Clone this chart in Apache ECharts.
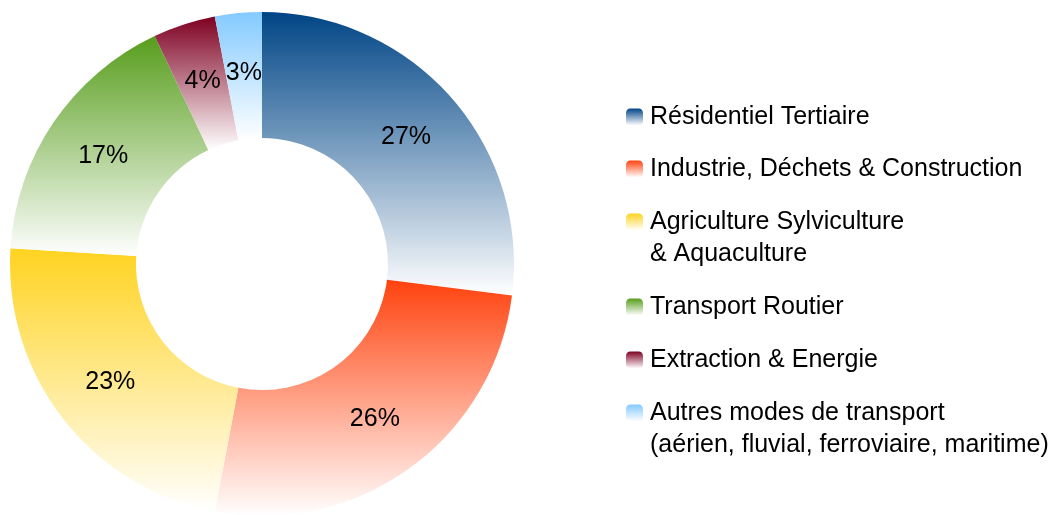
<!DOCTYPE html>
<html>
<head>
<meta charset="utf-8">
<script src="https://cdn.jsdelivr.net/npm/echarts@6/dist/echarts.min.js"></script>
<style>
  html, body { margin: 0; padding: 0; background: #fff; }
  #chart { width: 1058px; height: 515px; }
</style>
</head>
<body>
<div id="chart"></div>
<script>
// parts of emissions, in %
const categories = [
  'Résidentiel Tertiaire',
  'Industrie, Déchets & Construction',
  'Agriculture Sylviculture\n& Aquaculture',
  'Transport Routier',
  'Extraction & Energie',
  'Autres modes de transport\n(aérien, fluvial, ferroviaire, maritime)'
];
const shares = [27, 26, 23, 17, 4, 3];
const palette = ['#004586', '#ff420e', '#ffd320', '#579d1c', '#7e0021', '#83caff'];
// icon centre of each legend entry
const legendY = [117, 169, 222, 307, 360, 413];

const chart = echarts.init(document.getElementById('chart'));

function fade(c) {
  return new echarts.graphic.LinearGradient(0, 0, 0, 1, [
    { offset: 0, color: c },
    { offset: 1, color: '#ffffff' }
  ]);
}

const font = 'Liberation Sans, Arial, sans-serif';

// one legend per entry so the icon sits on the first text line
// (a blank line in front keeps the first real line in the middle)
const legends = categories.map(function (name, i) {
  const twoLines = name.indexOf('\n') >= 0;
  return {
    orient: 'vertical',
    left: 626,
    top: legendY[i] - (twoLines ? 48 : 16),
    padding: 0,
    itemWidth: 17,
    itemHeight: 17,
    selectedMode: false,
    data: [name],
    formatter: function (n) { return twoLines ? '\n' + n : n; },
    textStyle: {
      fontFamily: font,
      fontSize: 25,
      color: '#000',
      lineHeight: 32,
      padding: [0, 0, 0, 2]
    }
  };
});

chart.setOption({
  animation: false,
  legend: legends,
  series: [{
    type: 'pie',
    center: [262, 264],
    radius: [126, 252],
    startAngle: 90,
    clockwise: true,
    avoidLabelOverlap: false,
    emphasis: { disabled: true },
    itemStyle: { borderWidth: 0 },
    label: {
      show: true,
      position: 'inside',
      formatter: '{c}%',
      fontFamily: font,
      fontSize: 25,
      color: '#000',
      textBorderWidth: 0
    },
    labelLine: { show: false },
    data: categories.map(function (name, i) {
      return {
        name: name,
        value: shares[i],
        itemStyle: { color: fade(palette[i]) }
      };
    })
  }]
});
</script>
</body>
</html>
